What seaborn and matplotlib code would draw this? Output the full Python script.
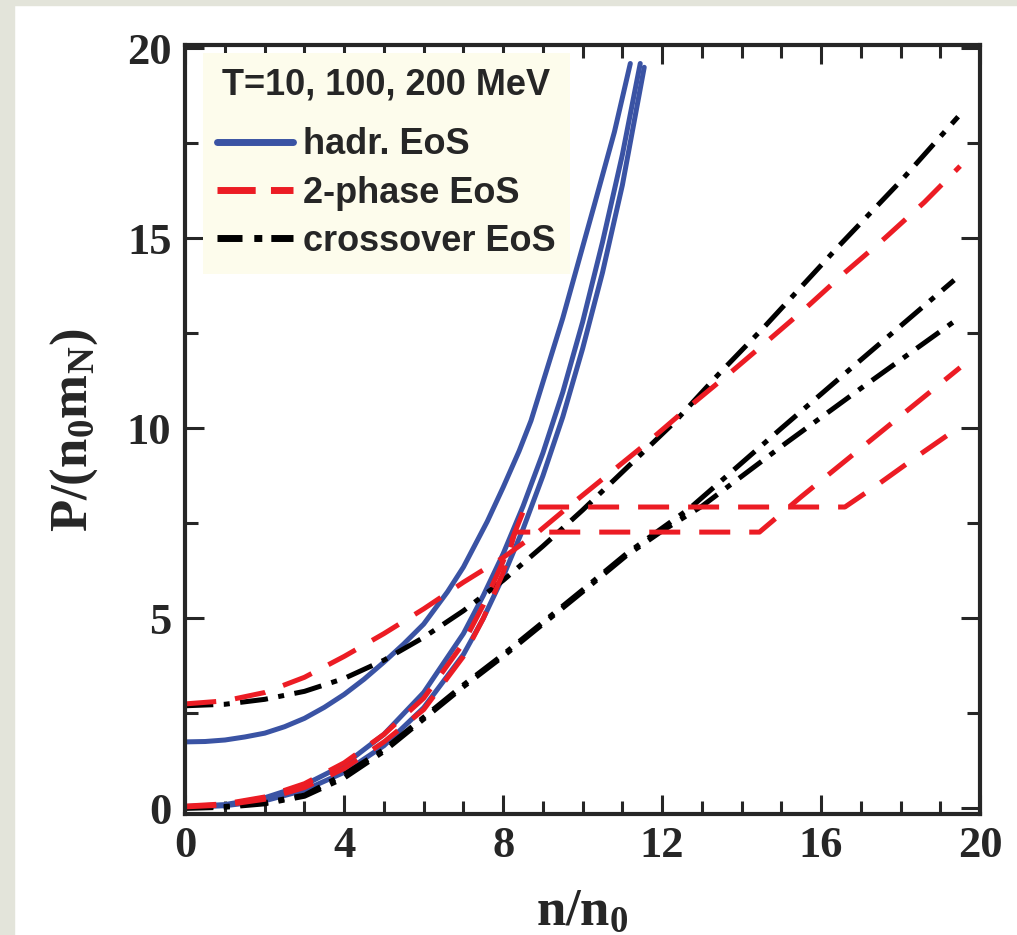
import pandas as pd
import seaborn as sns
import matplotlib.pyplot as plt
from matplotlib.lines import Line2D
from matplotlib.patches import Rectangle
from matplotlib.ticker import MultipleLocator

# hadronic EoS (blue, solid)
n_had_10 = [0, 1, 2, 3, 4, 5, 6, 7, 7.5, 8, 8.5, 9, 9.5, 10, 10.5, 11, 11.55]
p_had_10 = [0.03, 0.07, 0.2, 0.48, 0.95, 1.65, 2.65, 4.05, 5.0, 6.1, 7.35, 8.75, 10.3, 12.1, 14.1, 16.4, 19.5]
n_had_100 = [0, 1, 2, 3, 4, 5, 6, 7, 7.5, 8, 8.5, 9, 9.5, 10, 10.5, 11, 11.45]
p_had_100 = [0.05, 0.1, 0.28, 0.62, 1.15, 1.95, 3.05, 4.6, 5.6, 6.7, 7.95, 9.35, 10.95, 12.8, 14.9, 17.2, 19.6]
n_had_200 = [0, 0.5, 1, 1.5, 2, 2.5, 3, 3.5, 4, 4.5, 5, 5.5, 6, 6.6, 7, 7.6, 8.0, 8.4, 8.7, 9.5, 10.3, 10.8, 11.2]
p_had_200 = [1.75, 1.76, 1.8, 1.88, 1.98, 2.15, 2.37, 2.66, 3.0, 3.4, 3.85, 4.33, 4.85, 5.7, 6.35, 7.55, 8.45, 9.4, 10.2, 12.9, 15.9, 17.8, 19.6]

# 2-phase EoS (red, dashed)
n_2p_10 = [0, 1, 2, 3, 4, 5, 6, 7, 7.5, 8.0, 8.55, 16.6, 17.4, 18.4, 19.5]
p_2p_10 = [0.06, 0.12, 0.3, 0.65, 1.2, 1.95, 2.9, 4.35, 5.35, 6.5, 7.93, 7.93, 8.5, 9.25, 10.05]
n_2p_100 = [0, 1, 2, 3, 4, 5, 6, 7, 7.5, 8.0, 8.3, 14.45, 15.5, 16.5, 17.5, 18.5, 19.5]
p_2p_100 = [0.04, 0.09, 0.24, 0.55, 1.05, 1.75, 2.6, 4.0, 5.0, 6.2, 7.27, 7.27, 8.2, 9.05, 9.9, 10.75, 11.6]
n_2p_200 = [0, 1, 2, 3, 4, 5, 6, 7, 8, 8.8, 9.6, 10.6, 11.6, 12.6, 13.7, 14.6, 15.6, 16.6, 17.6, 18.6, 19.5]
p_2p_200 = [2.75, 2.83, 3.05, 3.45, 4.0, 4.6, 5.25, 5.95, 6.6, 7.2, 7.9, 8.75, 9.6, 10.5, 11.45, 12.25, 13.15, 14.1, 15.0, 15.95, 16.9]

# crossover EoS (black, dash-dot)
n_cr_10 = [0, 1, 2, 3, 4, 5, 6, 7, 8, 9, 10, 11.1, 12.0, 13.0, 15.1, 17, 19.4]
p_cr_10 = [0.0, 0.03, 0.12, 0.32, 0.8, 1.5, 2.35, 3.2, 4.0, 4.85, 5.7, 6.65, 7.3, 7.95, 9.6, 11.05, 12.85]
n_cr_100 = [0, 1, 2, 3, 4, 5, 6, 7, 8, 9, 10, 11.1, 12.7, 15, 17, 19.35]
p_cr_100 = [0.02, 0.05, 0.15, 0.35, 0.9, 1.55, 2.4, 3.25, 4.05, 4.9, 5.75, 6.7, 7.9, 10.0, 11.8, 13.9]
n_cr_200 = [0, 1, 2, 3, 4, 5, 6, 7, 8, 9, 10, 11.2, 12.3, 13.4, 14.6, 16.45, 18.0, 19.45]
p_cr_200 = [2.7, 2.74, 2.87, 3.08, 3.42, 3.9, 4.5, 5.2, 6.0, 6.9, 7.85, 9.05, 10.15, 11.4, 12.7, 14.8, 16.5, 18.2]

legend_order = ["hadr. EoS", "2-phase EoS", "crossover EoS"]

curves = [
    ("hadr. EoS", 10, n_had_10, p_had_10),
    ("hadr. EoS", 100, n_had_100, p_had_100),
    ("hadr. EoS", 200, n_had_200, p_had_200),
    ("2-phase EoS", 10, n_2p_10, p_2p_10),
    ("2-phase EoS", 100, n_2p_100, p_2p_100),
    ("2-phase EoS", 200, n_2p_200, p_2p_200),
    ("crossover EoS", 10, n_cr_10, p_cr_10),
    ("crossover EoS", 100, n_cr_100, p_cr_100),
    ("crossover EoS", 200, n_cr_200, p_cr_200),
]
df = pd.concat([pd.DataFrame({"n": n, "P": p, "EoS": eos, "T": T})
                for eos, T, n, p in curves], ignore_index=True)

colors = {"hadr. EoS": "#3a53a4", "2-phase EoS": "#ec1c24", "crossover EoS": "black"}
# dash patterns for plot lines (lw 3.6) and for the fatter legend lines (lw 5)
dashes_plot = {"hadr. EoS": "-", "2-phase EoS": (0, (6.2, 3.8)),
               "crossover EoS": (0, (5.6, 2.1, 1.2, 2.1))}
dashes_leg = {"hadr. EoS": "-", "2-phase EoS": (0, (5.5, 2.2)),
              "crossover EoS": (0, (3.6, 1.7, 1.15, 1.3))}

sns.set_style("ticks")
plt.rcParams["font.family"] = "Liberation Serif"
plt.rcParams["font.weight"] = "bold"
plt.rcParams["axes.labelweight"] = "bold"
plt.rcParams["mathtext.default"] = "regular"

fig = plt.figure(figsize=(10.17, 9.35), dpi=100)
# grey margin strips of the scanned figure
fig.add_artist(Rectangle((0, 0), 14 / 1017, 1, transform=fig.transFigure, color="#e3e4da", zorder=0))
fig.add_artist(Rectangle((0, 1 - 5 / 935), 1, 5 / 935, transform=fig.transFigure, color="#e3e4da", zorder=0))

ax = fig.add_axes([0.1822, 0.1289, 0.7814, 0.8227])

# blue first, red on top
for eos in ["hadr. EoS", "crossover EoS", "2-phase EoS"]:
    sns.lineplot(data=df[df["EoS"] == eos], x="n", y="P", units="T", estimator=None,
                 sort=False, lw=3.6, color=colors[eos], linestyle=dashes_plot[eos],
                 legend=False, ax=ax)

ax.set_xlim(0, 20)
ax.set_ylim(-0.16, 20.08)
ax.xaxis.set_major_locator(MultipleLocator(4))
ax.xaxis.set_minor_locator(MultipleLocator(1))
ax.yaxis.set_major_locator(MultipleLocator(5))
ax.yaxis.set_minor_locator(MultipleLocator(2.5))
ax.tick_params(which="both", direction="in", top=True, right=True, width=2.2, labelsize=32)
ax.tick_params(which="major", length=14)
ax.tick_params(which="minor", length=9.5)
ax.tick_params(axis="y", pad=10)
ax.tick_params(axis="x", pad=8)
for s in ax.spines.values():
    s.set_linewidth(3)

ax.set_xlabel("n/n$_0$", fontsize=38)
ax.set_ylabel("P/(n$_0$m$_N$)", fontsize=38)
ax.xaxis.set_label_coords(0.5, -0.095)
ax.yaxis.set_label_coords(-0.107, 0.5)

handles = [Line2D([], [], lw=5, color=colors[k], linestyle=dashes_leg[k]) for k in legend_order]
sans = dict(family="Liberation Sans", weight="bold", size=26)
leg = ax.legend(handles, legend_order, title="T=10, 100, 200 MeV", loc="upper left",
                bbox_to_anchor=(0.0223, 0.99), borderaxespad=0, frameon=True, fancybox=False,
                facecolor="#fdfcec", edgecolor="none", framealpha=1, prop=sans,
                title_fontproperties=sans, handlelength=2.08, handletextpad=0.28,
                labelspacing=0.37, borderpad=0.4)
leg._legend_box.sep = 18  # more room under the title

plt.savefig("out.png", dpi=100)
